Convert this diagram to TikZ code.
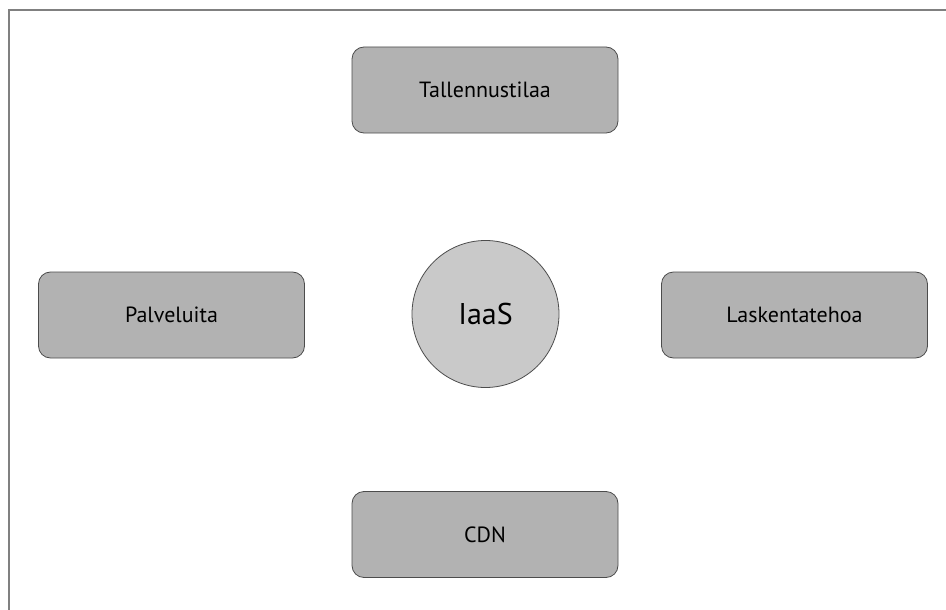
\documentclass[tikz,border=0pt]{standalone}
\usepackage{fontspec}
\setmainfont{PT Sans}
\begin{document}
\begin{tikzpicture}[x=1pt,y=-1pt,
  boxstyle/.style={draw=black!70,line width=0.8pt,fill=black!30,rounded corners=12pt,minimum width=266pt,minimum height=86pt,inner sep=0pt,font=\fontsize{22}{26}\selectfont},
  hubstyle/.style={draw=black!70,line width=0.8pt,fill=black!21,circle,minimum size=147pt,inner sep=0pt,font=\fontsize{30}{34}\selectfont},
  framestyle/.style={draw=black!50,line width=2pt}]
\useasboundingbox (0,0) rectangle (946,610);
\fill[white] (0,0) rectangle (946,610);
\coordinate (fa) at (9,610);
\coordinate (fb) at (9,10);
\coordinate (fc) at (946,10);
\draw[framestyle] (fa) -- (fb) -- (fc);
\node[boxstyle] (top) at (485,90) {Tallennustilaa};
\node[boxstyle] (left) at (171.5,315) {Palveluita};
\node[boxstyle] (right) at (794.5,315) {Laskentatehoa};
\node[boxstyle] (bottom) at (485,534.5) {CDN};
\node[hubstyle] (hub) at (485.5,314) {IaaS};
\end{tikzpicture}
\end{document}
